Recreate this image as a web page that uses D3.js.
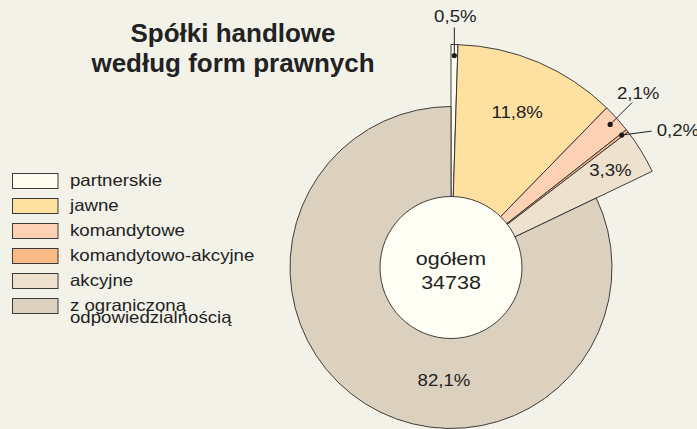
<!DOCTYPE html>
<html>
<head>
<meta charset="utf-8">
<script src="https://cdn.jsdelivr.net/npm/d3@7"></script>
<style>
  html, body { margin: 0; padding: 0; background: #f3f2e9; }
  svg { display: block; font-family: "Liberation Sans", Arial, sans-serif; }
</style>
</head>
<body>
<div id="chart"></div>
<script>
// data
const categories = ["partnerskie", "jawne", "komandytowe", "komandytowo-akcyjne", "akcyjne", "z ograniczoną odpowiedzialnością"];
const shares = [0.5, 11.8, 2.1, 0.2, 3.3, 82.1];
const total = 34738;
const titleLines = ["Spółki handlowe", "według form prawnych"];
const centerLabel = "ogółem";

const colors = ["#fffdf0", "#fee0a1", "#fdd1b3", "#fbbb87", "#eee1cd", "#dcd0bf"];

var width = 697, height = 429;
var cx = 451, cy = 267.5;
var innerR = 71, bigR = 161, explodedR = 223;

const svg = d3.select("#chart")
  .append("svg")
    .attr("width", width)
    .attr("height", height);

svg.append("rect")
  .attr("width", width)
  .attr("height", height)
  .attr("fill", "#f3f2e9");

const fmt = v => d3.format(".1f")(v).replace(".", ",") + "%";

//title
svg.append("g")
  .selectAll("text")
  .data(titleLines)
  .join("text")
    .attr("x", 233)
    .attr("y", (d, i) => 42 + i * 30)
    .attr("text-anchor", "middle")
    .style("font-size", "26px")
    .style("font-weight", "bold")
    .style("fill", "#222")
    .text(d => d);

//pie
const pie = d3.pie().sort(null).value(d => d);
const arcs = pie(shares);
const outerR = i => i === shares.length - 1 ? bigR : explodedR;

const g = svg.append("g")
  .attr("transform", `translate(${cx},${cy})`);

g.selectAll("path")
  .data(arcs)
  .join("path")
    .attr("fill", (d, i) => colors[i])
    .attr("stroke", "#2b2b2b")
    .attr("stroke-width", 0.9)
    .attr("stroke-linejoin", "round")
    .attr("d", (d, i) => d3.arc().innerRadius(0).outerRadius(outerR(i))(d));

g.append("circle")
  .attr("r", innerR)
  .attr("fill", "#fffef4")
  .attr("stroke", "#2b2b2b")
  .attr("stroke-width", 0.9);

// text stretched a little wider, like the original face
function stretchedText(parent, x, y, txt, size, anchor, sx) {
  return parent.append("text")
    .attr("transform", `translate(${x},${y}) scale(${sx},1)`)
    .attr("text-anchor", anchor)
    .style("font-size", size + "px")
    .style("fill", "#222")
    .text(txt);
}

const polar = (angleDeg, r) => {
  const a = angleDeg * Math.PI / 180;
  return [r * Math.sin(a), -r * Math.cos(a)];
};
const midDeg = d => (d.startAngle + d.endAngle) / 2 * 180 / Math.PI;

// inside labels: [angle (null = middle of slice), radius]
const inside = {1: [null, 169], 4: [null, 187], 5: [183.6, 112.7]};
// leader labels: dot radius, line end offset, text offset, anchor
const leaders = {
  0: {r: 212, line: [0, -28], text: [1, -34], anchor: "middle"},
  2: {r: 214, line: [22, -22], text: [28, -25.5], anchor: "middle"},
  3: {r: 216, line: [30, -4], text: [35, 1], anchor: "start"}
};

arcs.forEach((d, i) => {
  if (inside[i]) {
    const [ang, r] = inside[i];
    const [x, y] = polar(ang === null ? midDeg(d) : ang, r);
    stretchedText(g, x, y + 6, fmt(shares[i]), 16.5, "middle", 1.13);
  } else if (leaders[i]) {
    const L = leaders[i];
    const [x, y] = polar(midDeg(d), L.r);
    g.append("line")
      .attr("x1", x).attr("y1", y)
      .attr("x2", x + L.line[0]).attr("y2", y + L.line[1])
      .attr("stroke", "#222")
      .attr("stroke-width", 1);
    g.append("circle")
      .attr("cx", x).attr("cy", y)
      .attr("r", 2.6)
      .attr("fill", "#1a1a1a");
    stretchedText(g, x + L.text[0], y + L.text[1], fmt(shares[i]), 16.5, L.anchor, 1.13);
  }
});

//center
stretchedText(g, 0, -3, centerLabel, 18.5, "middle", 1.16);
stretchedText(g, 0, 21, total, 18.5, "middle", 1.16);

//legend
const legend = svg.append("g")
  .attr("transform", "translate(12.5,173.5)");

const rows = legend.selectAll("g")
  .data(categories)
  .join("g")
    .attr("transform", (d, i) => `translate(0,${i * 25})`);

rows.append("rect")
  .attr("width", 45.5)
  .attr("height", 15)
  .attr("fill", (d, i) => colors[i])
  .attr("stroke", "#3a3a3a")
  .attr("stroke-width", 1);

rows.each(function(d) {
  const words = d.split(" ");
  const lines = words.length > 2 ? [words.slice(0, 2).join(" "), words.slice(2).join(" ")] : [d];
  const row = d3.select(this);
  lines.forEach((t, j) => {
    stretchedText(row, 57.5, 12 + j * 12.5, t, 16.5, "start", 1.13);
  });
});
</script>
</body>
</html>
